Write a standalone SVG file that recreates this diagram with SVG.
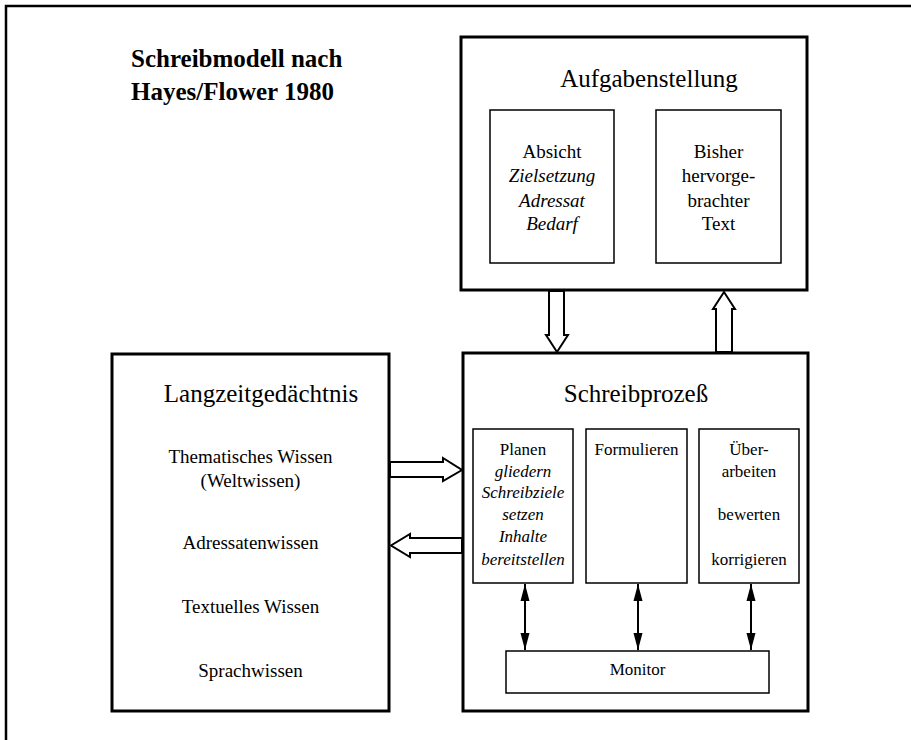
<svg xmlns="http://www.w3.org/2000/svg" width="911" height="740" viewBox="0 0 911 740">
<style>
text{font-family:"Liberation Serif","Times New Roman",serif;fill:#000;text-anchor:middle}
.big{font-size:25px}
.mid{font-size:19px}
.sm{font-size:17px}
.it{font-style:italic}
.title{font-size:25px;font-weight:bold;text-anchor:start}
.thick{fill:#fff;stroke:#000;stroke-width:3}
.thin{fill:#fff;stroke:#000;stroke-width:1.5}
.hollow{fill:#fff;stroke:#000;stroke-width:2;stroke-linejoin:miter}
.dbl{stroke:#000;stroke-width:2;fill:none;marker-start:url(#ah);marker-end:url(#ah)}
</style>
<defs>
<marker id="ah" markerUnits="userSpaceOnUse" markerWidth="18" markerHeight="12" refX="17" refY="5" orient="auto-start-reverse" viewBox="0 0 18 10">
<path d="M0,0.5 L17,5 L0,9.5 Z" fill="#000"/>
</marker>
</defs>
<path d="M6,740 V6 H911" fill="none" stroke="#000" stroke-width="2.5"/>
<text class="title" x="131" y="67">Schreibmodell nach</text>
<text class="title" x="131" y="100">Hayes/Flower 1980</text>

<g id="aufgabenstellung">
<rect class="thick" x="461" y="37" width="346" height="253"/>
<text class="big" x="649" y="87">Aufgabenstellung</text>
</g>
<g id="absicht">
<rect class="thin" x="490" y="110" width="124" height="153"/>
<text class="mid" x="552" y="158">Absicht</text>
<text class="mid it" x="552" y="182">Zielsetzung</text>
<text class="mid it" x="552" y="207">Adressat</text>
<text class="mid it" x="552" y="230">Bedarf</text>
</g>
<g id="bisher">
<rect class="thin" x="656" y="110" width="125" height="153"/>
<text class="mid" x="718.5" y="158">Bisher</text>
<text class="mid" x="718.5" y="182">hervorge-</text>
<text class="mid" x="718.5" y="207">brachter</text>
<text class="mid" x="718.5" y="230">Text</text>
</g>

<g id="langzeitgedaechtnis">
<rect class="thick" x="112" y="354" width="277" height="357"/>
<text class="big" x="261" y="402">Langzeitgedächtnis</text>
<text class="mid" x="250.5" y="463">Thematisches Wissen</text>
<text class="mid" x="250.5" y="487">(Weltwissen)</text>
<text class="mid" x="250.5" y="549">Adressatenwissen</text>
<text class="mid" x="250.5" y="613">Textuelles Wissen</text>
<text class="mid" x="250.5" y="677">Sprachwissen</text>
</g>

<g id="schreibprozess">
<rect class="thick" x="463" y="353" width="345" height="358"/>
<text class="big" x="636" y="402">Schreibprozeß</text>
</g>
<g id="planen">
<rect class="thin" x="473" y="429" width="100" height="154"/>
<text class="sm" x="523" y="455">Planen</text>
<text class="sm it" x="523" y="477">gliedern</text>
<text class="sm it" x="523" y="498">Schreibziele</text>
<text class="sm it" x="523" y="520">setzen</text>
<text class="sm it" x="523" y="542">Inhalte</text>
<text class="sm it" x="523" y="565">bereitstellen</text>
</g>
<g id="formulieren">
<rect class="thin" x="586" y="429" width="101" height="154"/>
<text class="sm" x="636.5" y="455">Formulieren</text>
</g>
<g id="ueberarbeiten">
<rect class="thin" x="699" y="429" width="100" height="154"/>
<text class="sm" x="749" y="455">Über-</text>
<text class="sm" x="749" y="477">arbeiten</text>
<text class="sm" x="749" y="520">bewerten</text>
<text class="sm" x="749" y="565">korrigieren</text>
</g>
<g id="monitor">
<rect class="thin" x="506" y="651" width="263" height="42"/>
<text class="sm" x="637.5" y="675">Monitor</text>
</g>

<g id="connectors">
<polygon class="hollow" points="549,291 564,291 564,335 568,335 557,352 546,335 549,335"/>
<polygon class="hollow" points="716,352 732,352 732,309 735,309 724,292 713,309 716,309"/>
<polygon class="hollow" points="390,462 443,462 443,458 462,470 443,481 443,477 390,477"/>
<polygon class="hollow" points="462,538 410,538 410,534 391,545.5 410,557 410,553 462,553"/>
<line class="dbl" x1="525" y1="584" x2="525" y2="650"/>
<line class="dbl" x1="638" y1="584" x2="638" y2="650"/>
<line class="dbl" x1="751" y1="584" x2="751" y2="650"/>
</g>
</svg>
